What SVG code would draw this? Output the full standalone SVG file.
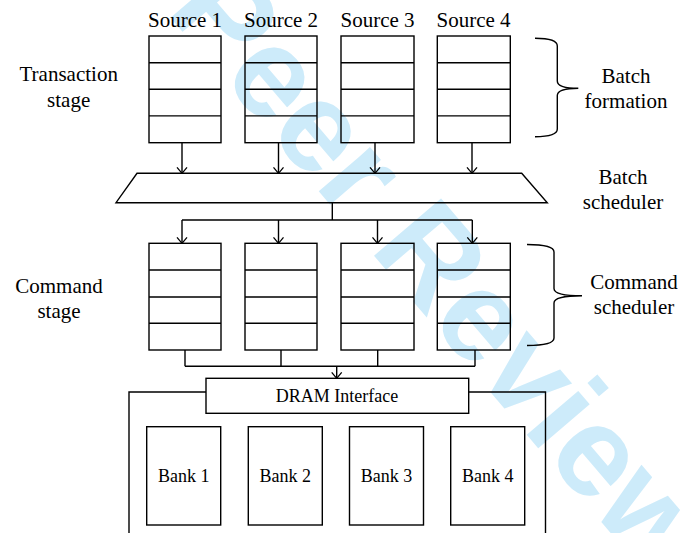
<svg xmlns="http://www.w3.org/2000/svg" width="680" height="533" viewBox="0 0 680 533">
<style>
.ln{fill:none;stroke:#000;stroke-width:1.4}
.bx{fill:none;stroke:#000;stroke-width:1.4}
.t{font-family:'Liberation Serif','Times New Roman',serif;font-size:21px;fill:#000;text-anchor:middle}
.s{font-family:'Liberation Serif','Times New Roman',serif;font-size:18px;fill:#000;text-anchor:middle}
.wm{font-family:'Liberation Sans',Arial,sans-serif;font-weight:bold;font-size:128px;fill:#cdebfa;text-anchor:middle}
</style>
<defs>
<marker id="arr" viewBox="-7 -6 8 12" refX="0" refY="0" markerWidth="8" markerHeight="12" markerUnits="userSpaceOnUse" orient="auto">
<path d="M-6,-5 L0,0 L-6,5" fill="none" stroke="#000" stroke-width="1.3"/>
</marker>
</defs>
<rect width="680" height="533" fill="#fff"/>
<text class="wm" transform="translate(410,298) rotate(49.5)" x="0" y="0">Peer Review</text>

<g id="labels">
<text class="t" x="68.7" y="81">Transaction</text>
<text class="t" x="68.7" y="106.5">stage</text>
<text class="t" x="626" y="83.3">Batch</text>
<text class="t" x="626" y="108.3">formation</text>
<text class="t" x="623" y="183.5">Batch</text>
<text class="t" x="623" y="209.3">scheduler</text>
<text class="t" x="59" y="292.7">Command</text>
<text class="t" x="59" y="318.3">stage</text>
<text class="t" x="634" y="289">Command</text>
<text class="t" x="634" y="314">scheduler</text>
</g>

<g id="source1"><text class="t" x="185" y="26.7">Source 1</text><rect class="bx" x="149" y="36" width="72" height="106.7"/><path class="ln" d="M149,62.7H221M149,89.3H221M149,115.9H221"/></g>
<g id="source2"><text class="t" x="281" y="26.7">Source 2</text><rect class="bx" x="245" y="36" width="72" height="106.7"/><path class="ln" d="M245,62.7H317M245,89.3H317M245,115.9H317"/></g>
<g id="source3"><text class="t" x="377.5" y="26.7">Source 3</text><rect class="bx" x="341" y="36" width="73" height="106.7"/><path class="ln" d="M341,62.7H414M341,89.3H414M341,115.9H414"/></g>
<g id="source4"><text class="t" x="473.5" y="26.7">Source 4</text><rect class="bx" x="437.3" y="36" width="73" height="106.7"/><path class="ln" d="M437.3,62.7H510.3M437.3,89.3H510.3M437.3,115.9H510.3"/></g>

<g id="batch-formation-brace"><path class="ln" d="M535,38.3 Q557.3,38.3 557.3,46 L557.3,81 Q557.3,88.3 578.3,88.3 Q557.3,88.3 557.3,95.6 L557.3,129 Q557.3,136.7 535,136.7"/></g>

<g id="batch-scheduler"><polygon class="bx" points="137,173.3 521.7,173.3 547.3,202.7 116,202.7"/></g>

<g id="cmd1"><rect class="bx" x="149" y="243.3" width="72" height="106.7"/><path class="ln" d="M149,270H221M149,297H221M149,323.3H221"/></g>
<g id="cmd2"><rect class="bx" x="245" y="243.3" width="72" height="106.7"/><path class="ln" d="M245,270H317M245,297H317M245,323.3H317"/></g>
<g id="cmd3"><rect class="bx" x="341" y="243.3" width="73" height="106.7"/><path class="ln" d="M341,270H414M341,297H414M341,323.3H414"/></g>
<g id="cmd4"><rect class="bx" x="437.3" y="243.3" width="73" height="106.7"/><path class="ln" d="M437.3,270H510.3M437.3,297H510.3M437.3,323.3H510.3"/></g>

<g id="command-scheduler-brace"><path class="ln" d="M527,244.5 Q554,244.5 554,252 L554,288.5 Q554,295.8 582,295.8 Q554,295.8 554,303 L554,338 Q554,345.5 527,345.5"/></g>

<g id="dram-interface"><rect class="bx" x="206" y="378.3" width="262.7" height="35"/><text class="s" x="337" y="401.7">DRAM Interface</text></g>
<g id="dram-frame"><path class="ln" d="M206,392H129V540M468.7,392H545.5V540"/></g>

<g id="bank1"><rect class="bx" x="146.7" y="426.7" width="74" height="98.3"/><text class="s" x="183.7" y="481.7">Bank 1</text></g>
<g id="bank2"><rect class="bx" x="248.3" y="426.7" width="74" height="98.3"/><text class="s" x="285.3" y="481.7">Bank 2</text></g>
<g id="bank3"><rect class="bx" x="349.5" y="426.7" width="74" height="98.3"/><text class="s" x="386.5" y="481.7">Bank 3</text></g>
<g id="bank4"><rect class="bx" x="450.7" y="426.7" width="74" height="98.3"/><text class="s" x="487.7" y="481.7">Bank 4</text></g>

<g id="connectors">
<path class="ln" d="M182,142.7V173.3" marker-end="url(#arr)"/>
<path class="ln" d="M278.5,142.7V173.3" marker-end="url(#arr)"/>
<path class="ln" d="M375,142.7V173.3" marker-end="url(#arr)"/>
<path class="ln" d="M472,142.7V173.3" marker-end="url(#arr)"/>
<path class="ln" d="M332.3,202.7V220M182,220H472.3"/>
<path class="ln" d="M182,220V243.3" marker-end="url(#arr)"/>
<path class="ln" d="M278.5,220V243.3" marker-end="url(#arr)"/>
<path class="ln" d="M377.5,220V243.3" marker-end="url(#arr)"/>
<path class="ln" d="M472.3,220V243.3" marker-end="url(#arr)"/>
<path class="ln" d="M185,350V366.3M281,350V366.3M377.7,350V366.3M475,350V366.3M185,366.3H475"/>
<path class="ln" d="M336.7,366.3V378.3" marker-end="url(#arr)"/>
</g>
</svg>
